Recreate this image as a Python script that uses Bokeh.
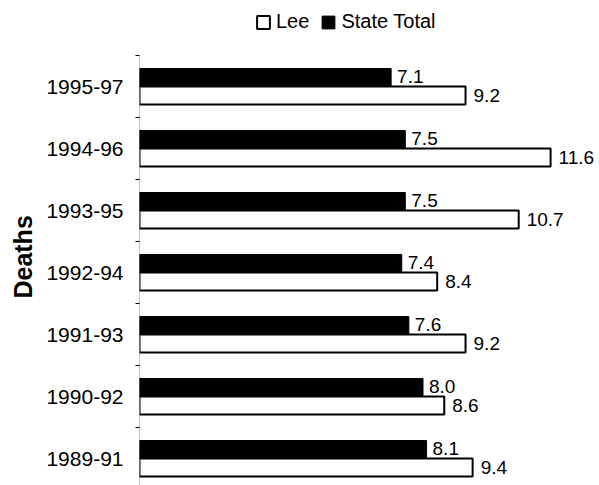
from bokeh.plotting import figure
from bokeh.models import Legend, LegendItem, FixedTicker, ColumnDataSource, Range1d
from bokeh.embed import file_html
from bokeh.resources import INLINE
from bokeh.core.properties import value

periods = ["1989-91", "1990-92", "1991-93", "1992-94", "1993-95", "1994-96", "1995-97"]
lee = [9.4, 8.6, 9.2, 8.4, 10.7, 11.6, 9.2]
state = [8.1, 8.0, 7.6, 7.4, 7.5, 7.5, 7.1]

FONT = "Liberation Sans"
idx = list(range(len(periods)))
y_lo, y_hi = -0.435, 7.387
top_edge = len(periods) - 0.5

src = ColumnDataSource(dict(
    y_state=[i + 0.145 for i in idx],
    y_lee=[i - 0.145 for i in idx],
    state=state,
    lee=lee,
    state_lbl=[f"{v:.1f}" for v in state],
    lee_lbl=[f"{v:.1f}" for v in lee],
))

p = figure(width=599, height=485, output_backend="svg", toolbar_location=None,
           x_range=Range1d(0, 12.98), y_range=Range1d(y_lo, y_hi),
           x_axis_location=None, min_border_left=139, min_border_right=0,
           min_border_top=0, min_border_bottom=0)
p.outline_line_color = None
p.xgrid.visible = False
p.ygrid.visible = False

# vertical axis line (drawn as a segment so it stops at the top category edge)
p.segment(x0=[0], y0=[y_lo], x1=[0], y1=[top_edge], line_color="#888888", line_width=1)

r_state = p.hbar(y="y_state", right="state", left=0, height=0.29, source=src,
                 fill_color="black", line_color="black", line_width=1)
r_lee = p.hbar(y="y_lee", right="lee", left=0, height=0.29, source=src,
               fill_color="white", line_color="black", line_width=2)

p.text(x="state", y="y_state", text="state_lbl", source=src, x_offset=6, y_offset=-1,
       text_font=value(FONT), text_font_size="19px", text_baseline="middle", text_color="black")
p.text(x="lee", y="y_lee", text="lee_lbl", source=src, x_offset=8, y_offset=0,
       text_font=value(FONT), text_font_size="19px", text_baseline="middle", text_color="black")

ax = p.yaxis[0]
ax.ticker = FixedTicker(ticks=idx, minor_ticks=[i + 0.5 for i in range(-1, len(periods))])
ax.major_label_overrides = {i: periods[i] for i in idx}
ax.major_tick_out = 0
ax.major_tick_in = 0
ax.minor_tick_out = 4
ax.minor_tick_in = 0
ax.minor_tick_line_color = "black"
ax.axis_line_color = None
ax.major_label_standoff = 12
ax.major_label_text_font = FONT
ax.major_label_text_font_size = "21px"
ax.major_label_text_color = "black"
ax.axis_label = "Deaths\u00a0\u00a0\u00a0\u00a0"
ax.axis_label_text_font = FONT
ax.axis_label_text_font_style = "bold"
ax.axis_label_text_font_size = "25px"
ax.axis_label_text_color = "black"
ax.axis_label_standoff = 6

legend = Legend(items=[LegendItem(label="Lee", renderers=[r_lee]),
                       LegendItem(label="State Total", renderers=[r_state])],
                location=(116, 452), orientation="horizontal",
                glyph_width=16, glyph_height=16, label_standoff=5, spacing=11,
                padding=0, margin=0, border_line_color=None, background_fill_alpha=0,
                label_text_font=FONT, label_text_font_size="20px", label_text_color="black",
                label_height=20)
p.add_layout(legend, "center")

open("out.html", "w").write(file_html(p, INLINE))
